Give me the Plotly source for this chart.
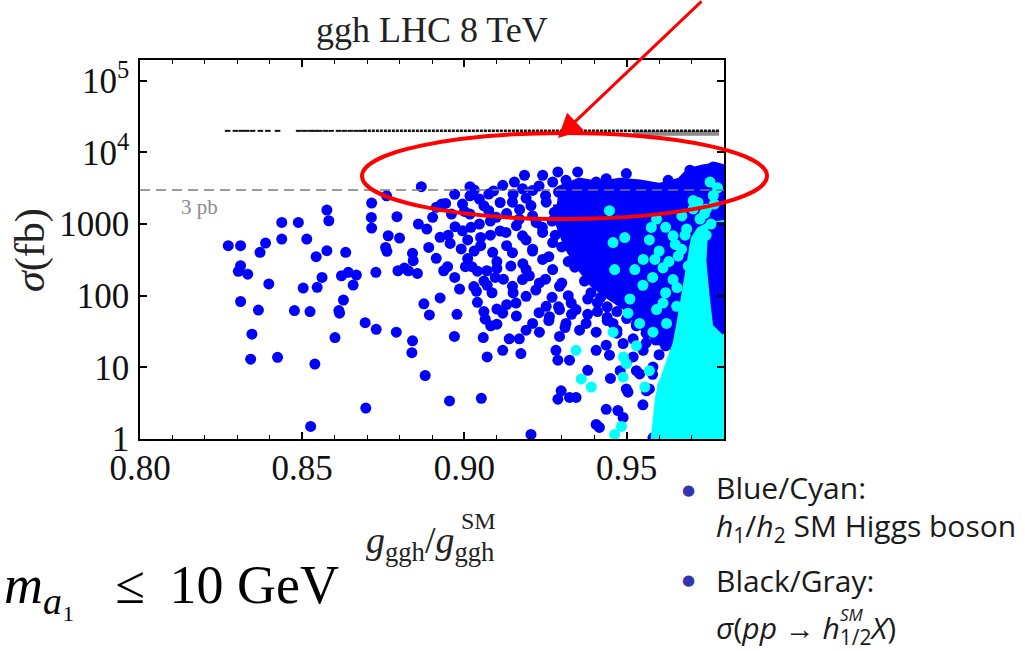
import plotly.graph_objects as go

# ---------------- data ----------------
# blue points: h1/h2 SM-like Higgs (x = g_ggh/g_ggh^SM, y = sigma in fb)
blue_x = [
    0.8272, 0.8310, 0.8310, 0.8303, 0.8332, 0.8310, 0.8345, 0.8341, 0.8365, 0.8370,
    0.8387, 0.8397, 0.8424, 0.8437, 0.8437, 0.8476, 0.8488, 0.8503, 0.8514, 0.8524,
    0.8526, 0.8539, 0.8543, 0.8546, 0.8561, 0.8576, 0.8582, 0.8576, 0.8601, 0.8613,
    0.8615, 0.8621, 0.8634, 0.8642, 0.8657, 0.8667, 0.8627, 0.8694, 0.8696, 0.8714,
    0.8713, 0.8714, 0.8727, 0.8728, 0.8757, 0.8761, 0.8765, 0.8792, 0.8795, 0.8800,
    0.8790, 0.8840, 0.8838, 0.8815, 0.8827, 0.8840, 0.8842, 0.8858, 0.8855, 0.8875,
    0.8879, 0.8884, 0.8890, 0.8892, 0.8913, 0.8925, 0.8925, 0.8936, 0.8948, 0.8954,
    0.8956, 0.8969, 0.8977, 0.8985, 0.8971, 0.8994, 0.9003, 0.9023, 0.9029, 0.9037,
    0.9040, 0.9052, 0.9058, 0.9064, 0.9081, 0.9069, 0.9087, 0.8867, 0.9017, 0.8760,
    0.8913, 0.8942, 0.8960, 0.8994, 0.9017, 0.9017, 0.9046, 0.9046, 0.9075, 0.9075,
    0.9098, 0.8902, 0.9010, 0.9050, 0.9080, 0.9100, 0.9095, 0.9060, 0.9030, 0.9085,
    0.9100, 0.9070,
    0.9118, 0.9154, 0.9185, 0.9179, 0.9210, 0.9241, 0.9272, 0.9288, 0.9148, 0.9205,
    0.9252, 0.9277, 0.9169, 0.9221, 0.9128, 0.9179, 0.9241, 0.9272, 0.9210, 0.9148,
    0.9241, 0.9143, 0.9190, 0.9272, 0.9179, 0.9231, 0.9148, 0.9293, 0.9190, 0.9159,
    0.9252, 0.9293, 0.9118, 0.9262, 0.9210, 0.9231, 0.9138, 0.9169, 0.9293, 0.9118,
    0.9174, 0.9282, 0.9288, 0.9324, 0.9298, 0.9288, 0.9324, 0.9344, 0.9205, 0.9380,
    0.9406, 0.9437, 0.9447, 0.9437, 0.9473, 0.9489, 0.9406, 0.9416, 0.9499, 0.9504,
    0.9581, 0.9602, 0.9602, 0.9561, 0.9540, 0.9581, 0.9520, 0.9551, 0.9489, 0.9355,
    0.9375, 0.9406, 0.9458, 0.9344, 0.9313, 0.9329,
    0.9313, 0.9349, 0.9344, 0.9370, 0.9406, 0.9437, 0.9458, 0.9499, 0.9489, 0.9530,
    0.9561, 0.9628, 0.9654, 0.9695, 0.9726, 0.9767, 0.9788, 0.9602, 0.9633,
    # denser part between 0.89 and 0.935
    0.8930, 0.8970, 0.9000, 0.9030, 0.9060, 0.9090, 0.9110, 0.9130, 0.9150, 0.9170,
    0.9190, 0.9210, 0.9230, 0.9250, 0.9270, 0.9290, 0.9310,
    0.8950, 0.8990, 0.9020, 0.9050, 0.9080, 0.9110, 0.9130, 0.9160, 0.9190, 0.9210,
    0.9240, 0.9260, 0.9280, 0.9300, 0.9320,
    0.8970, 0.9010, 0.9040, 0.9070, 0.9100, 0.9120, 0.9150, 0.9180, 0.9200, 0.9220,
    0.9250, 0.9270, 0.9300, 0.9320,
    0.9060, 0.9100, 0.9130, 0.9160, 0.9190, 0.9230, 0.9260, 0.9290, 0.9310, 0.9330,
    # ragged edge of the dense core and the lower fringe
    0.9350, 0.9330, 0.9340, 0.9370, 0.9390, 0.9420, 0.9440, 0.9470, 0.9500, 0.9530,
    0.9560, 0.9590, 0.9620, 0.9650, 0.9380, 0.9410, 0.9440, 0.9470, 0.9520, 0.9530,
    0.9500, 0.9530, 0.9560, 0.9580, 0.9600, 0.9620, 0.9640, 0.9570, 0.9550, 0.9610,
    0.9630, 0.9470, 0.9440, 0.9410, 0.9380, 0.9520, 0.9480, 0.9450,
]
blue_y = [
    500, 500, 262, 219, 200, 83, 29, 13, 63, 403,
    543, 146, 13.8, 1055, 618, 62, 1055, 128, 618, 60,
    1.5, 11.1, 350, 131, 180, 1568, 1113, 425, 26, 62,
    57, 190, 403, 212, 141, 194, 87, 42, 2.7, 1963,
    1239, 880, 212, 34, 472, 416, 687, 1266, 223, 638,
    31, 23.5, 16, 243, 223, 390, 308, 1000, 205, 77,
    7.7, 851, 472, 54, 332, 652, 93, 223, 254, 3.4,
    537, 27, 55, 124, 918, 807, 254, 254, 134, 115,
    81, 3.7, 26, 47, 38, 223, 403, 3320, 3320, 2480,
    1710, 1943, 1380, 1900, 2480, 1380, 2230, 1000, 2620, 1535,
    1240, 1240, 600, 500, 700, 300, 180, 160, 420, 110,
    65, 14,
    3470, 3860, 4800, 3110, 2950, 4800, 3860, 5350, 2020, 1810,
    2020, 1460, 1175, 1055, 764, 685, 764, 552, 445, 399,
    321, 259, 232, 232, 168, 151, 135, 135, 98, 79,
    71, 64, 57, 51, 41, 31, 25, 25, 27, 17.3,
    15.6, 17.3, 12.6, 12.6, 4.7, 3.6, 3.8, 3.8, 1.16, 9.1,
    17.3, 20.4, 14.8, 2.6, 2.5, 2.0, 1.6, 1.45, 5.0, 4.5,
    1.04, 1.6, 2.5, 4.7, 8.1, 10.1, 14, 17.3, 21.5, 33,
    41, 31, 41, 64, 41, 79,
    4080, 5350, 3470, 2790, 3860, 4300, 3470, 5060, 3660, 3470,
    2790, 4080, 3470, 5640, 5350, 6280, 5640, 2250, 1810,
    1900, 2600, 1500, 3000, 1800, 2900, 2000, 1400, 2600, 1600,
    2300, 1300, 3400, 2500, 1100, 2800, 1800,
    700, 450, 900, 650, 1100, 800, 500, 950, 600, 420,
    900, 350, 700, 480, 300,
    180, 330, 220, 140, 240, 170, 110, 280, 190, 120,
    170, 95, 150, 100,
    60, 40, 75, 52, 33, 58, 45, 70, 36, 55,
    600, 1500, 250, 160, 110, 95, 70, 60, 48, 38,
    30, 24, 20, 18, 55, 80, 50, 33, 25, 40,
    12, 9, 22, 8, 15, 6, 11, 5, 3, 3.5,
    2.2, 30, 45, 60, 90, 60, 9, 7,
]

# outline of the densely filled blue core
blue_core_x = [0.9290, 0.9355, 0.9416, 0.9478, 0.9540, 0.9602, 0.9664, 0.9695, 0.9736,
               0.9777, 0.9800, 0.9800, 0.9726, 0.9664, 0.9602, 0.9551, 0.9499, 0.9447,
               0.9396, 0.9355, 0.9320, 0.9295, 0.9285]
blue_core_y = [3000, 3900, 3500, 3900, 3700, 3300, 3900, 5400, 6000,
               6400, 6000, 20, 15, 18, 23, 36, 70, 100,
               150, 260, 480, 950, 1900]

# cyan points
cyan_x = [0.9447, 0.9458, 0.9494, 0.9463, 0.9525, 0.9551, 0.9587, 0.9612, 0.9643, 0.9659,
          0.9669, 0.9643, 0.9592, 0.9576, 0.9685, 0.9705, 0.9726, 0.9757, 0.9767, 0.9705,
          0.9746, 0.9344, 0.9360, 0.9391, 0.9458, 0.9504, 0.9489, 0.9499, 0.9556, 0.9463,
          0.9484, 0.9581, 0.9592, 0.9612, 0.9623, 0.9654, 0.9540,
          0.9570, 0.9600, 0.9620, 0.9630, 0.9650, 0.9670, 0.9680, 0.9690, 0.9710, 0.9720,
          0.9740, 0.9745, 0.9760, 0.9770, 0.9780, 0.9655, 0.9620, 0.9580, 0.9550, 0.9510,
          0.9530, 0.9490, 0.9570, 0.9610, 0.9630]
cyan_y = [1540, 552, 649, 232, 232, 321, 321, 245, 168, 358,
          445, 685, 1175, 897, 851, 1625, 1175, 3860, 2510, 2130,
          1625, 17.3, 6.9, 5.3, 31, 57, 7.3, 11.3, 5.3, 1.16,
          1.5, 31, 64, 79, 41, 71, 41,
          600, 420, 900, 300, 520, 1300, 700, 260, 480, 2000,
          1400, 700, 1000, 1900, 3200, 130, 110, 180, 140, 90,
          20, 14, 9, 5.5, 3]

# outline of the solid cyan region
cyan_fill_x = [0.9584, 0.9592, 0.9600, 0.9610, 0.9623, 0.9638, 0.9654, 0.9664, 0.9674,
               0.9682, 0.9690, 0.9700, 0.9710, 0.9726, 0.9752, 0.9800, 0.9800, 0.9584]
cyan_fill_y = [0.8, 2.0, 3.8, 5.9, 8.6, 12.6, 21.5, 37, 64,
               109, 187, 358, 615, 805, 927, 1000, 0.8, 0.8]

# blue strip drawn over the cyan along the right edge
blue_edge_x = [0.9758, 0.9800, 0.9800, 0.9772, 0.9762, 0.9752, 0.9758]
blue_edge_y = [1000, 1000, 30, 40, 100, 300, 1000]

# black/gray: sigma(pp -> h_SM X)
black_x = [0.8270, 0.8294, 0.8312, 0.8329, 0.8347, 0.8371, 0.8394, 0.8424, 0.8489, 0.8506,
           0.8524, 0.8538, 0.8553, 0.8571, 0.8589, 0.8612, 0.8630, 0.8648, 0.8666, 0.8683]
black_y = [20000] * len(black_x)
black_band_x = [0.8690, 0.9785]
black_band_y = [20000, 20000]
gray_band_x = [0.9520, 0.9785]
gray_band_y = [18500, 18500]

limit_x = [0.80, 0.98]
limit_y = [3000, 3000]

x_ticks = [0.80, 0.85, 0.90, 0.95]
x_ticktext = ["0.80", "0.85", "0.90", "0.95"]
y_ticks = [1, 10, 100, 1000, 10000, 100000]
y_ticktext = ["1", "10", "100", "1000", "10<sup>4</sup>", "10<sup>5</sup>"]
y_minor = [m * 10 ** e for e in range(0, 6) for m in range(2, 10)]

# ---------------- layout geometry (pixels) ----------------
W, H = 1025, 651
L, R, T, B = 140, 724, 60, 439
PW, PH = R - L, B - T


def px(p):
    return (p - L) / PW


def py(p):
    return (B - p) / PH


SERIF = "Liberation Serif"
SANS = "Open Sans"
BLUE = "#0000ff"
CYAN = "#00ffff"
MS = 11

fig = go.Figure()

fig.add_trace(go.Scatter(x=blue_core_x, y=blue_core_y, mode="lines", fill="toself",
                         fillcolor=BLUE, line=dict(color=BLUE, width=8),
                         hoverinfo="skip", showlegend=False))
fig.add_trace(go.Scatter(x=blue_x, y=blue_y, mode="markers",
                         marker=dict(color=BLUE, size=MS, line=dict(width=0)),
                         showlegend=False))
fig.add_trace(go.Scatter(x=cyan_fill_x, y=cyan_fill_y, mode="lines", fill="toself",
                         fillcolor=CYAN, line=dict(color=CYAN, width=8),
                         hoverinfo="skip", showlegend=False))
fig.add_trace(go.Scatter(x=blue_edge_x, y=blue_edge_y, mode="lines", fill="toself",
                         fillcolor=BLUE, line=dict(color=BLUE, width=4),
                         hoverinfo="skip", showlegend=False))
fig.add_trace(go.Scatter(x=cyan_x, y=cyan_y, mode="markers",
                         marker=dict(color=CYAN, size=MS, line=dict(width=0)),
                         showlegend=False))
fig.add_trace(go.Scatter(x=gray_band_x, y=gray_band_y, mode="lines",
                         line=dict(color="#8a8a8a", width=5), showlegend=False))
fig.add_trace(go.Scatter(x=black_band_x, y=black_band_y, mode="lines",
                         line=dict(color="#111111", width=2.5, dash="3px,1px"),
                         showlegend=False))
fig.add_trace(go.Scatter(x=black_x, y=black_y, mode="markers",
                         marker=dict(symbol="line-ew", size=4, color="#111111",
                                     line=dict(color="#111111", width=2)),
                         showlegend=False))
fig.add_trace(go.Scatter(x=limit_x, y=limit_y, mode="lines",
                         line=dict(color="#7a7a7a", width=1.5, dash="10px,6px"),
                         showlegend=False))

axis_common = dict(showgrid=False, zeroline=False, showline=True, linecolor="black",
                   linewidth=1.5, ticks="inside", tickcolor="black", tickwidth=1.5,
                   ticklen=7, tickfont=dict(family=SERIF, size=35, color="#111"))

fig.update_layout(
    width=W, height=H, autosize=False,
    margin=dict(l=L, r=W - R, t=T, b=H - B, pad=0),
    paper_bgcolor="white", plot_bgcolor="white",
    xaxis=dict(range=[0.80, 0.98], tickmode="array", tickvals=x_ticks,
               ticktext=x_ticktext, mirror="ticks", ticklabelstandoff=-3,
               minor=dict(ticks="inside", dtick=0.01, ticklen=4, tickwidth=1.2,
                          tickcolor="black"),
               **axis_common),
    yaxis=dict(type="log", range=[0, 5.29], tickmode="array", tickvals=y_ticks,
               ticktext=y_ticktext, mirror="ticks", ticklabelstandoff=2,
               **axis_common),
    yaxis2=dict(type="log", range=[0, 5.29], overlaying="y", side="right",
                showgrid=False, zeroline=False, showticklabels=False,
                tickmode="array", tickvals=y_ticks, ticks="inside", ticklen=7,
                tickwidth=1.5, tickcolor="black",
                minor=dict(ticks="inside", tickmode="array", tickvals=y_minor,
                           ticklen=4, tickwidth=1, tickcolor="black")),
    showlegend=False,
)

ann = []
ann.append(dict(text="ggh LHC 8 TeV", x=px(432), y=py(30), xref="paper", yref="paper",
                showarrow=False, xanchor="center", yanchor="middle",
                font=dict(family=SERIF, size=36, color="#222")))
ann.append(dict(text="<i>σ</i>(fb)", x=px(30), y=py(250), xref="paper", yref="paper",
                showarrow=False, textangle=-90, xanchor="center", yanchor="middle",
                font=dict(family=SERIF, size=42, color="#222")))
ann.append(dict(text="<i>g</i><sub>ggh</sub>/<i>g</i><sub>ggh</sub>", x=px(430), y=py(543),
                xref="paper", yref="paper", showarrow=False, xanchor="center",
                yanchor="middle", font=dict(family=SERIF, size=38, color="#222")))
ann.append(dict(text="SM", x=px(478), y=py(521), xref="paper", yref="paper",
                showarrow=False, xanchor="center", yanchor="middle",
                font=dict(family=SERIF, size=24, color="#222")))
ann.append(dict(text="3 pb", x=px(199), y=py(207), xref="paper", yref="paper",
                showarrow=False, xanchor="center", yanchor="middle",
                font=dict(family=SERIF, size=21, color="#8c8c8c")))
# side notes
bullet_col = "#3434b0"
for yb in (490, 580):
    ann.append(dict(text="●", x=px(688), y=py(yb), xref="paper", yref="paper",
                    showarrow=False, xanchor="center", yanchor="middle",
                    font=dict(family="DejaVu Sans", size=15, color=bullet_col)))
side_lines = [
    ("Blue/Cyan:", 487),
    ("<i>h</i><sub>1</sub>/<i>h</i><sub>2</sub> SM Higgs boson", 527),
    ("Black/Gray:", 580),
    ("<i>σ</i>(<i>pp</i> → <i>h</i><sub>1/2</sub><i>X</i>)", 629),
]
for txt, yy in side_lines:
    ann.append(dict(text=txt, x=px(714), y=py(yy), xref="paper", yref="paper",
                    showarrow=False, xanchor="left", yanchor="middle",
                    font=dict(family=SANS, size=30, color="#1a1a1a")))
ann.append(dict(text="<i>SM</i>", x=px(838), y=py(614), xref="paper", yref="paper",
                showarrow=False, xanchor="left", yanchor="middle",
                font=dict(family=SANS, size=17, color="#1a1a1a")))
ann.append(dict(text="<i>m</i><sub><i>a</i>₁</sub>\u2002 ≤ \u200910 GeV", x=px(2), y=py(588),
                xref="paper", yref="paper", showarrow=False, xanchor="left",
                yanchor="middle", font=dict(family=SERIF, size=54, color="black")))
# red arrow
ann.append(dict(text="", x=px(558), y=py(138), xref="paper", yref="paper",
                showarrow=True, ax=703 - 558, ay=-6 - 138, arrowcolor="#ff0000",
                arrowwidth=3, arrowhead=2, arrowsize=1.6, standoff=0))
fig.update_layout(annotations=ann)

fig.add_shape(type="circle", xref="paper", yref="paper",
              x0=px(362), x1=px(767), y0=py(219), y1=py(133),
              line=dict(color="#ff0000", width=4))

fig.write_html("out.html")
